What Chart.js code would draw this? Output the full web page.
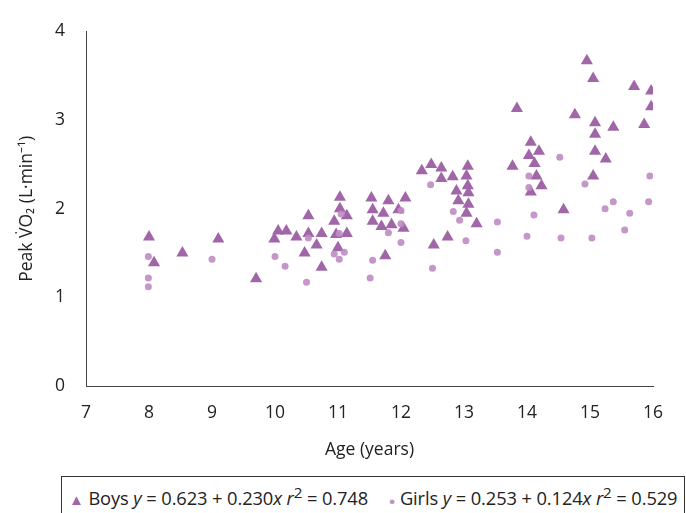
<!DOCTYPE html>
<html>
<head>
<meta charset="utf-8">
<script src="https://cdn.jsdelivr.net/npm/chart.js@4.4.1/dist/chart.umd.min.js"></script>
<style>
html, body { margin: 0; padding: 0; background: #fff; overflow: hidden; }
body { font-family: "Open Sans", sans-serif; }
#wrap { position: relative; width: 686px; height: 470px; }
#legend {
    position: absolute; left: 61px; top: 476px; width: 624px; height: 60px;
    border: 1px solid #333; box-sizing: border-box;
    font-size: 18.3px; color: #222; padding: 5px 0 0 7px; white-space: nowrap; letter-spacing: -0.1px;
}
#legend .tri { color: #a066a8; font-size: 15px; }
#legend .dot { color: #c393c6; font-size: 11px; margin-left: 16px; }
</style>
</head>
<body>
<div id="wrap"><canvas id="chart" width="686" height="470"></canvas></div>
<div id="legend">
    <span class="tri">&#9650;</span> Boys <i>y</i> = 0.623 + 0.230<i>x r</i><sup>2</sup> = 0.748
    <span class="dot">&#9679;</span> Girls <i>y</i> = 0.253 + 0.124<i>x r</i><sup>2</sup> = 0.529
</div>
<script>
// valeurs
const boysAge = [8.0, 8.08, 8.53, 9.1, 9.7, 9.99, 10.05, 10.18, 10.34, 10.53, 10.53, 10.74, 10.66, 10.47, 10.74,
    11.03, 11.03, 10.94, 11.14, 10.97, 11.14, 11.0, 11.53, 11.8, 12.07, 11.55, 11.72, 11.96, 11.55, 11.69, 11.85,
    12.04, 11.75, 12.33, 12.48, 12.64, 12.64, 12.82, 13.06, 13.04, 13.06, 12.88, 13.07, 12.91, 13.07, 13.04, 13.2,
    12.74, 12.52, 13.77, 13.84, 14.95, 15.05, 15.7, 15.97, 15.97, 15.86, 14.76, 15.08, 15.08, 15.37, 15.08, 15.25,
    15.05, 14.06, 14.19, 14.03, 14.12, 14.15, 14.23, 14.06, 14.58];
const boysVO2 = [1.68, 1.39, 1.50, 1.66, 1.21, 1.66, 1.75, 1.75, 1.68, 1.92, 1.72, 1.72, 1.59, 1.50, 1.34,
    2.13, 2.0, 1.86, 1.92, 1.71, 1.72, 1.56, 2.12, 2.09, 2.12, 1.99, 1.95, 1.99, 1.86, 1.80, 1.82,
    1.78, 1.47, 2.43, 2.50, 2.46, 2.34, 2.36, 2.48, 2.37, 2.26, 2.20, 2.18, 2.09, 2.05, 1.95, 1.83,
    1.68, 1.59, 2.48, 3.13, 3.67, 3.47, 3.38, 3.33, 3.15, 2.95, 3.06, 2.97, 2.84, 2.92, 2.65, 2.56,
    2.37, 2.75, 2.65, 2.60, 2.51, 2.37, 2.26, 2.19, 1.99];

const girlsAge = [7.99, 7.99, 7.99, 9.0, 10.0, 10.16, 10.53, 10.5, 11.05, 11.02, 10.94, 11.1, 11.02, 11.55,
    11.51, 11.8, 12.0, 12.0, 12.0, 12.47, 12.5, 12.83, 12.93, 13.03, 13.53, 13.53, 14.52, 14.03, 14.03,
    14.92, 15.95, 15.37, 15.24, 15.93, 15.63, 14.11, 15.55, 14.0, 14.54, 15.03];
const girlsVO2 = [1.46, 1.22, 1.12, 1.43, 1.46, 1.35, 1.67, 1.17, 1.94, 1.72, 1.49, 1.51, 1.43, 1.42,
    1.22, 1.73, 1.98, 1.83, 1.62, 2.27, 1.33, 1.97, 1.87, 1.64, 1.85, 1.51, 2.58, 2.37, 2.24,
    2.28, 2.37, 2.08, 2.0, 2.08, 1.95, 1.93, 1.76, 1.69, 1.67, 1.67];

const xMin = 7, xMax = 16;
const yMin = 0, yMax = 4;

const toPoints = (xs, ys) => xs.map((x, i) => ({ x: x, y: ys[i] }));

const font = { family: '"Open Sans", sans-serif', size: 17.5 };

const ctx = document.getElementById('chart').getContext('2d');
new Chart(ctx, {
    type: 'scatter',
    data: {
        datasets: [{
            label: 'Boys',
            data: toPoints(boysAge, boysVO2),
            pointStyle: 'triangle',
            pointRadius: 7,
            backgroundColor: '#a066a8',
            borderColor: '#a066a8',
            borderWidth: 0,
            order: 1
        }, {
            label: 'Girls',
            data: toPoints(girlsAge, girlsVO2),
            pointStyle: 'circle',
            pointRadius: 3.5,
            backgroundColor: 'rgba(190, 140, 194, 0.9)',
            borderWidth: 0,
            order: 0
        }]
    },
    options: {
        responsive: false,
        animation: false,
        layout: { padding: { left: 0, top: 16, right: 33, bottom: 0 } },
        plugins: { legend: { display: false }, tooltip: { enabled: false } },
        scales: {
            x: {
                type: 'linear',
                min: xMin, max: xMax,
                grid: { display: false, drawTicks: false },
                border: { display: true, color: '#444', width: 1 },
                ticks: { stepSize: 1, padding: 17, color: '#222', font: font },
                title: { display: true, text: 'Age (years)', color: '#222', font: font, padding: { top: 0, bottom: 9 } },
                afterFit: (scale) => { scale.height = 84; }
            },
            y: {
                min: yMin, max: yMax,
                grid: { display: false, drawTicks: false },
                border: { display: true, color: '#444', width: 1 },
                ticks: { stepSize: 1, padding: 21, color: '#222', font: font },
                title: { display: true, text: 'Peak V\u0307O\u2082 (L\u00b7min\u207b\u00b9)', color: '#222', font: font, padding: { top: 17, bottom: 0 } },
                afterFit: (scale) => { scale.width = 86; }
            }
        }
    }
});
</script>
</body>
</html>
